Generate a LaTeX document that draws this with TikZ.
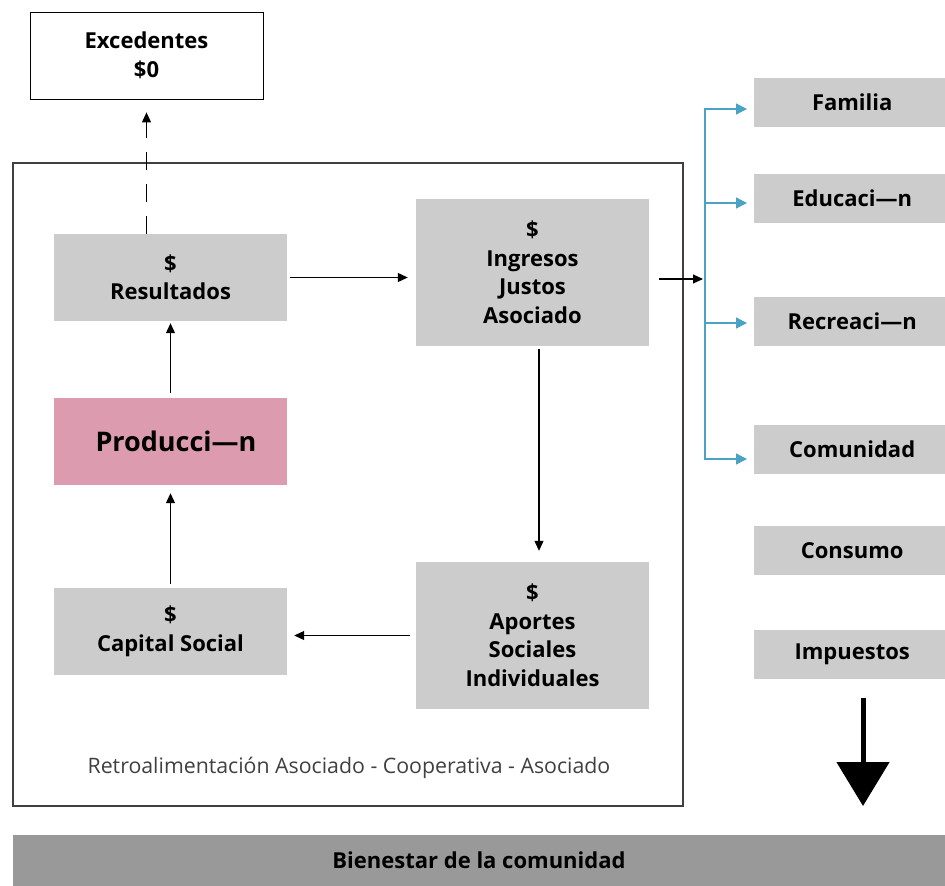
\documentclass[tikz,border=0pt]{standalone}
\usepackage{fontspec}
\setmainfont{Open Sans}
\usepackage{tikz}
\usetikzlibrary{arrows.meta}
\usetikzlibrary{calc}
\definecolor{boxgray}{HTML}{CCCCCC}
\definecolor{prodpink}{HTML}{DC9BAF}
\definecolor{bargray}{HTML}{999999}
\definecolor{linkblue}{HTML}{4BA3C3}
\definecolor{framegray}{HTML}{404040}

\begin{document}
\begin{tikzpicture}[x=1pt, y=-1pt,
    caja/.style={fill=boxgray, minimum width=233pt, minimum height=87pt, inner sep=0pt, align=center,
                 font=\fontsize{22}{28.5}\selectfont\bfseries},
    destino/.style={fill=boxgray, minimum width=191pt, minimum height=49pt, inner sep=0pt, anchor=west,
                 font=\fontsize{22}{28.5}\selectfont\bfseries},
    flecha/.style={-{Triangle[length=10pt,width=9pt]}, line width=1.1pt, black},
    azul/.style={-{Triangle[length=11pt,width=11pt]}, line width=1.4pt, linkblue, shorten >=7pt}]
    \useasboundingbox (0,0) rectangle (945,886);

    % excedentes arriba
    \node[caja, fill=white, draw=black, line width=0.8pt] (exc) at (146.5,55.5) {Excedentes\\\$0};

    % marco de la cooperativa
    \draw[framegray, line width=1.2pt] (13,163) rectangle (683,806);

    \node[caja] (res) at (170.5,277.5) {\$\\Resultados};
    \node[caja, minimum height=147pt] (ing) at (532.5,272.5) {\$\\Ingresos\\Justos\\Asociado};
    \node[caja, fill=prodpink, font=\fontsize{27}{34}\selectfont\bfseries] (prod) at (170.5,441.5) {\hspace*{11pt}Producci—n};
    \node[caja] (cap) at (170.5,631.5) {\$\\Capital Social};
    \node[caja, minimum height=147pt] (apo) at (532.5,635.5) {\$\\Aportes\\Sociales\\Individuales};

    \node[text=framegray, font=\fontsize{21.3}{24}\selectfont] (lbl) at (349,768)
        {Retroalimentación Asociado - Cooperativa - Asociado};

    % ciclo
    \draw[flecha, shorten <=3pt, shorten >=8pt] (res.east) -- (res.east -| ing.west);
    \draw[flecha, shorten <=3pt, shorten >=11pt] ($(ing.south)+(6.5,0)$) -- ($(apo.north)+(6.5,0)$);
    \draw[flecha, shorten <=6pt, shorten >=7pt] (apo.west) -- (apo.west -| cap.east);
    \draw[flecha, shorten <=4pt, shorten >=8pt] (cap.north) -- (prod.south);
    \draw[flecha, shorten <=5pt, shorten >=2pt] (prod.north) -- (res.south);
    \draw[flecha, dash pattern=on 18pt off 14pt, shorten >=13pt] (res.north -| exc.south) -- (exc.south);

    % destinos a la derecha
    \coordinate (br) at (705,279);
    \draw[flecha, shorten <=10pt, shorten >=2pt] (ing.east |- br) -- (br);
    \foreach \id/\name/\y/\dy in {fam/Familia/102.5/6.5, edu/Educaci—n/198.5/4.5, rec/Recreaci—n/321.5/1.5, com/Comunidad/449.5/9.5}
    {
        \node[destino] (\id) at (754,\y) {\hspace*{5pt}\name};
        \draw[azul] (br) |- ($(\id.west)+(0,\dy)$);
    }
    \foreach \id/\name/\y in {con/Consumo/550.5, imp/Impuestos/654.5}
        \node[destino] (\id) at (754,\y) {\hspace*{5pt}\name};

    % flecha grande y bienestar
    \coordinate (bt) at (863,698);
    \coordinate (bb) at (863,806);
    \draw[line width=5pt, -{Triangle[length=44pt,width=52pt]}] (bt) -- (bb);
    \node[fill=bargray, minimum width=932pt, minimum height=51pt, inner sep=0pt,
          font=\fontsize{22}{24}\selectfont\bfseries] (bien) at (479,860.5) {Bienestar de la comunidad};
\end{tikzpicture}
\end{document}
